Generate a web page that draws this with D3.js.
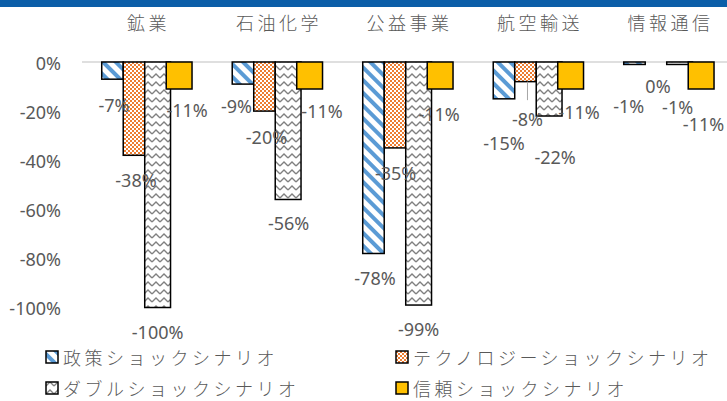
<!DOCTYPE html>
<html>
<head>
<meta charset="utf-8">
<script src="https://cdn.jsdelivr.net/npm/d3@7"></script>
<style>
  html, body { margin: 0; padding: 0; background: #fff; }
  svg { display: block; }
  .num { font-family: "Noto Sans", sans-serif; font-size: 18px; fill: #595959; }
  .jp { font-family: "Noto Sans CJK JP", sans-serif; font-size: 18px; font-weight: 300; fill: #595959; letter-spacing: 3.5px; }
</style>
</head>
<body>
<svg id="chart" width="727" height="401"></svg>
<script>
const categories = ['鉱業', '石油化学', '公益事業', '航空輸送', '情報通信'];
const seriesNames = ['政策ショックシナリオ', 'テクノロジーショックシナリオ', 'ダブルショックシナリオ', '信頼ショックシナリオ'];
const policyShock = [-7, -9, -78, -15, -1];
const techShock = [-38, -20, -35, -8, 0];
const doubleShock = [-100, -56, -99, -22, -1];
const trustShock = [-11, -11, -11, -11, -11];
const yTickValues = [0, -20, -40, -60, -80, -100];
const yTickLabels = ['0%', '-20%', '-40%', '-60%', '-80%', '-100%'];

const seriesValues = [policyShock, techShock, doubleShock, trustShock];

// label nudges (dx, dy) from the default spot below each bar
const labelNudge = [
  [[1.5, 1.5], [-6.5, -2], [1.5, 0.8], [0, 19.7], [-5.7, 18]],
  [[2, 0.7], [2, 1.5], [0.7, 1.4], [2, 13.5], [2, 0]],
  [[0, 0], [0.5, 0], [0, 0], [6, 17], [-2, 19]],
  [[8, -3], [12.4, -2.3], [-1, 1], [8.4, -1.3], [2.4, 11]]
];
const leaders = [[1, 3]];
const fills = ['url(#stripes)', 'url(#checker)', 'url(#zigzag)', '#ffc000'];
const widthFactor = [1, 1, 1.2, 1.2];

const svg = d3.select('#chart');
const defs = svg.append('defs');

const stripes = defs.append('pattern')
  .attr('id', 'stripes').attr('patternUnits', 'userSpaceOnUse')
  .attr('width', 9).attr('height', 9).attr('patternTransform', 'rotate(-45)');
stripes.append('rect').attr('width', 9).attr('height', 9).attr('fill', '#fff');
stripes.append('rect').attr('width', 4).attr('height', 9).attr('fill', '#5b9bd5');

const checker = defs.append('pattern')
  .attr('id', 'checker').attr('patternUnits', 'userSpaceOnUse')
  .attr('width', 4).attr('height', 4);
checker.append('rect').attr('width', 4).attr('height', 4).attr('fill', '#ed7d31');
checker.append('rect').attr('width', 2).attr('height', 2).attr('fill', '#fff');
checker.append('rect').attr('x', 2).attr('y', 2).attr('width', 2).attr('height', 2).attr('fill', '#fff');

const zigzag = defs.append('pattern')
  .attr('id', 'zigzag').attr('patternUnits', 'userSpaceOnUse')
  .attr('width', 8).attr('height', 8);
zigzag.append('rect').attr('width', 8).attr('height', 8).attr('fill', '#fff');
zigzag.append('path').attr('d', 'M0,6 L4,2 L8,6')
  .attr('fill', 'none').attr('stroke', '#808080').attr('stroke-width', 1.3);

// top band
svg.append('rect').attr('x', 0).attr('y', 0).attr('width', 727).attr('height', 7).attr('fill', '#0b5ea8');

const x = d3.scaleBand().domain(categories).range([81.5, 734]).paddingInner(0.31).paddingOuter(0.155);
const xs = d3.scaleBand().domain(d3.range(seriesNames.length)).range([0, 86]).padding(0);
const y = d3.scaleLinear().domain([-100, 0]).range([307.5, 62]);

// y axis labels
const yAxis = d3.axisLeft(y).tickValues(yTickValues).tickSize(0).tickPadding(21)
  .tickFormat((d, i) => yTickLabels[i]);
const ay = svg.append('g').attr('transform', 'translate(82,0)').call(yAxis);
ay.select('.domain').remove();
ay.selectAll('text').attr('class', 'num').attr('font-size', null).attr('font-family', null)
  .attr('dy', null).attr('dominant-baseline', 'central');

// category labels on top
svg.append('g').selectAll('text').data(categories).join('text')
  .attr('class', 'jp')
  .attr('x', (d) => x(d) + x.bandwidth() / 2 + 1.75)
  .attr('y', 22)
  .attr('text-anchor', 'middle')
  .attr('dominant-baseline', 'central')
  .text((d) => d);

// zero line
svg.append('line').attr('x1', 82).attr('x2', 727).attr('y1', y(0)).attr('y2', y(0))
  .attr('stroke', '#bfbfbf').attr('stroke-width', 1);

const cells = [];
seriesValues.forEach((vals, s) => {
  vals.forEach((v, c) => {
    const w = xs.bandwidth() * widthFactor[s];
    const x0 = x(categories[c]) + xs(s);
    cells.push({ s, c, v, x0, w, cx: x0 + w / 2 });
  });
});

svg.append('g').selectAll('rect').data(cells).join('rect')
  .attr('x', (d) => d.x0)
  .attr('y', y(0))
  .attr('width', (d) => d.w)
  .attr('height', (d) => y(d.v) - y(0))
  .attr('fill', (d) => fills[d.s])
  .attr('stroke', '#000')
  .attr('stroke-width', 1.5);

// leader lines
svg.append('g').selectAll('line').data(leaders.map(([s, c]) => cells.find((d) => d.s === s && d.c === c))).join('line')
  .attr('x1', (d) => d.cx + labelNudge[d.s][d.c][0])
  .attr('x2', (d) => d.cx + labelNudge[d.s][d.c][0])
  .attr('y1', (d) => y(d.v))
  .attr('y2', (d) => y(d.v) + 24 + labelNudge[d.s][d.c][1] - 19)
  .attr('stroke', '#a6a6a6').attr('stroke-width', 1);

// data labels
svg.append('g').selectAll('text').data(cells).join('text')
  .attr('class', 'num')
  .attr('x', (d) => d.cx + labelNudge[d.s][d.c][0])
  .attr('y', (d) => y(d.v) + 24 + labelNudge[d.s][d.c][1])
  .attr('text-anchor', 'middle')
  .attr('dominant-baseline', 'central')
  .text((d) => `${d.v}%`);

// legend
const legendPos = [[46, 357], [396, 357], [46, 388], [396, 388]];
const legend = svg.append('g').selectAll('g').data(seriesNames).join('g')
  .attr('transform', (d, i) => `translate(${legendPos[i][0]},${legendPos[i][1]})`);
legend.append('rect')
  .attr('x', 0).attr('y', -6).attr('width', 12).attr('height', 12)
  .attr('fill', (d, i) => fills[i]).attr('stroke', '#000').attr('stroke-width', 1.5);
legend.append('text')
  .attr('class', 'jp')
  .attr('x', 17).attr('y', 0)
  .attr('dominant-baseline', 'central')
  .text((d) => d);
</script>
</body>
</html>
